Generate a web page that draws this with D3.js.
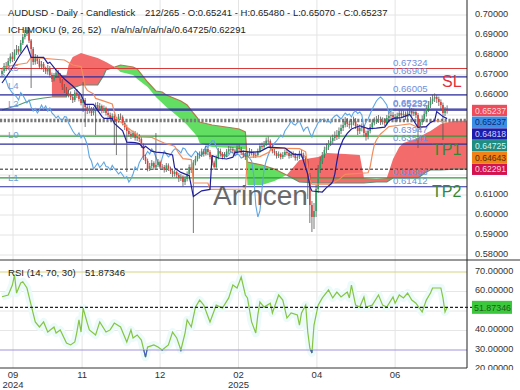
<!DOCTYPE html>
<html>
<head>
<meta charset="utf-8">
<title>AUDUSD Daily Ichimoku</title>
<script src="https://cdn.jsdelivr.net/npm/d3@7/dist/d3.min.js"></script>
<style>
body { margin: 0; background: #fff; }
svg { display: block; font-family: "Liberation Sans", Arial, sans-serif; }
</style>
</head>
<body>
<script>
// daily candles, oldest first (bar 0 .. 214)
var opens = [
0.6705,0.6720,0.6745,0.6738,0.6770,0.6792,0.6780,0.6812,0.6830,0.6818,
0.6860,0.6890,0.6905,0.6925,0.6872,0.6830,0.6765,0.6790,0.6770,0.6742,
0.6755,0.6730,0.6718,0.6735,0.6700,0.6680,0.6695,0.6712,0.6700,0.6672,
0.6640,0.6625,0.6610,0.6602,0.6590,0.6575,0.6612,0.6600,0.6580,0.6560,
0.6575,0.6540,0.6520,0.6532,0.6510,0.6525,0.6550,0.6530,0.6545,0.6520,
0.6535,0.6510,0.6500,0.6485,0.6495,0.6480,0.6470,0.6492,0.6490,0.6460,
0.6440,0.6420,0.6405,0.6395,0.6410,0.6385,0.6398,0.6380,0.6350,0.6290,
0.6270,0.6230,0.6245,0.6260,0.6238,0.6250,0.6265,0.6242,0.6240,0.6225,
0.6248,0.6232,0.6220,0.6205,0.6215,0.6200,0.6185,0.6192,0.6165,0.6180,
0.6205,0.6240,0.6225,0.6262,0.6280,0.6295,0.6300,0.6318,0.6305,0.6330,
0.6315,0.6290,0.6262,0.6240,0.6285,0.6320,0.6305,0.6290,0.6300,0.6318,
0.6330,0.6330,0.6322,0.6310,0.6335,0.6330,0.6312,0.6300,0.6290,0.6305,
0.6320,0.6310,0.6298,0.6300,0.6320,0.6345,0.6340,0.6355,0.6372,0.6370,
0.6340,0.6320,0.6310,0.6295,0.6305,0.6290,0.6300,0.6315,0.6310,0.6295,
0.6305,0.6300,0.6285,0.6290,0.6310,0.6300,0.6285,0.6270,0.6200,0.6050,
0.5990,0.6020,0.6130,0.6230,0.6270,0.6300,0.6325,0.6340,0.6360,0.6370,
0.6385,0.6400,0.6390,0.6420,0.6435,0.6450,0.6470,0.6455,0.6450,0.6462,
0.6470,0.6445,0.6420,0.6435,0.6440,0.6410,0.6390,0.6420,0.6440,0.6462,
0.6470,0.6478,0.6480,0.6465,0.6472,0.6460,0.6485,0.6495,0.6500,0.6490,
0.6480,0.6495,0.6510,0.6500,0.6505,0.6490,0.6512,0.6520,0.6508,0.6515,
0.6500,0.6440,0.6465,0.6480,0.6505,0.6530,0.6550,0.6570,0.6582,0.6590,
0.6580,0.6565,0.6550,0.6510,0.65241];
var highs = [
0.6735,0.6760,0.6765,0.6785,0.6808,0.6815,0.6828,0.6850,0.6845,0.6875,
0.6905,0.6925,0.6940,0.6935,0.6880,0.6840,0.6805,0.6800,0.6782,0.6770,
0.6765,0.6742,0.6750,0.6745,0.6712,0.6710,0.6730,0.6725,0.6710,0.6680,
0.6655,0.6640,0.6625,0.6618,0.6605,0.6625,0.6630,0.6612,0.6595,0.6665,
0.6585,0.6552,0.6548,0.6540,0.6540,0.6562,0.6565,0.6560,0.6552,0.6548,
0.6542,0.6522,0.6512,0.6508,0.6505,0.6490,0.6505,0.6508,0.6498,0.6470,
0.6452,0.6432,0.6418,0.6422,0.6420,0.6412,0.6405,0.6390,0.6358,0.6302,
0.6282,0.6260,0.6275,0.6268,0.6410,0.6280,0.6272,0.6255,0.6250,0.6260,
0.6258,0.6242,0.6230,0.6228,0.6222,0.6210,0.6205,0.6198,0.6195,0.6218,
0.6252,0.6255,0.6275,0.6295,0.6310,0.6318,0.6332,0.6330,0.6345,0.6340,
0.6325,0.6298,0.6272,0.6298,0.6335,0.6332,0.6315,0.6315,0.6330,0.6345,
0.6342,0.6340,0.6330,0.6348,0.6350,0.6340,0.6322,0.6310,0.6318,0.6335,
0.6330,0.6318,0.6312,0.6332,0.6358,0.6362,0.6370,0.6388,0.6392,0.6378,
0.6350,0.6332,0.6320,0.6318,0.6312,0.6315,0.6328,0.6330,0.6320,0.6318,
0.6318,0.6310,0.6305,0.6322,0.6325,0.6312,0.6295,0.6280,0.6210,0.6070,
0.6060,0.6150,0.6250,0.6290,0.6315,0.6342,0.6358,0.6375,0.6392,0.6402,
0.6418,0.6425,0.6438,0.6452,0.6468,0.6490,0.6485,0.6472,0.6480,0.6492,
0.6485,0.6455,0.6452,0.6458,0.6450,0.6422,0.6435,0.6455,0.6478,0.6488,
0.6495,0.6500,0.6492,0.6488,0.6485,0.6500,0.6512,0.6520,0.6515,0.6505,
0.6512,0.6528,0.6525,0.6522,0.6518,0.6530,0.6540,0.6535,0.6532,0.6528,
0.6510,0.6480,0.6498,0.6522,0.6548,0.6570,0.6590,0.6602,0.6608,0.6600,
0.6592,0.6578,0.6562,0.6540,0.65480];
var lows = [
0.6695,0.6710,0.6720,0.6725,0.6758,0.6765,0.6770,0.6800,0.6802,0.6810,
0.6850,0.6878,0.6895,0.6860,0.6635,0.6750,0.6752,0.6755,0.6730,0.6728,
0.6715,0.6705,0.6702,0.6688,0.6665,0.6668,0.6685,0.6688,0.6660,0.6625,
0.6610,0.6598,0.6588,0.6575,0.6560,0.6565,0.6585,0.6568,0.6548,0.6515,
0.6440,0.6505,0.6508,0.6495,0.6498,0.6400,0.6518,0.6520,0.6508,0.6510,
0.6498,0.6488,0.6472,0.6470,0.6350,0.6300,0.6462,0.6475,0.6448,0.6425,
0.6215,0.6392,0.6380,0.6385,0.6372,0.6370,0.6365,0.6335,0.6275,0.6255,
0.6218,0.6220,0.6235,0.6225,0.6228,0.6240,0.6230,0.6228,0.6212,0.6215,
0.6220,0.6205,0.6190,0.6192,0.6185,0.6165,0.6170,0.6142,0.6150,0.6168,
0.6195,0.6210,0.5910,0.6248,0.6268,0.6282,0.6290,0.6292,0.6298,0.6300,
0.6278,0.6248,0.6225,0.6232,0.6278,0.6292,0.6278,0.6282,0.6290,0.6305,
0.6315,0.6310,0.6298,0.6302,0.6318,0.6300,0.6288,0.6275,0.6280,0.6295,
0.6298,0.6285,0.6285,0.6292,0.6312,0.6328,0.6330,0.6345,0.6355,0.6328,
0.6308,0.6298,0.6282,0.6285,0.6278,0.6280,0.6290,0.6298,0.6282,0.6285,
0.6288,0.6272,0.6272,0.6280,0.6288,0.6270,0.6240,0.6080,0.5960,0.5915,
0.5930,0.5990,0.6110,0.6210,0.6255,0.6285,0.6310,0.6325,0.6345,0.6355,
0.6370,0.6375,0.6380,0.6405,0.6420,0.6438,0.6440,0.6432,0.6435,0.6448,
0.6430,0.6400,0.6405,0.6418,0.6392,0.6372,0.6378,0.6408,0.6428,0.6448,
0.6455,0.6460,0.6450,0.6452,0.6445,0.6448,0.6470,0.6480,0.6475,0.6465,
0.6468,0.6480,0.6485,0.6488,0.6475,0.6478,0.6498,0.6492,0.6495,0.6485,
0.6335,0.6425,0.6450,0.6468,0.6492,0.6515,0.6535,0.6555,0.6565,0.6560,
0.6545,0.6530,0.6375,0.6495,0.65070];
var closes = [
0.6720,0.6745,0.6738,0.6770,0.6792,0.6780,0.6812,0.6830,0.6818,0.6860,
0.6890,0.6905,0.6925,0.6872,0.6830,0.6765,0.6790,0.6770,0.6742,0.6755,
0.6730,0.6718,0.6735,0.6700,0.6680,0.6695,0.6712,0.6700,0.6672,0.6640,
0.6625,0.6610,0.6602,0.6590,0.6575,0.6612,0.6600,0.6580,0.6560,0.6575,
0.6540,0.6520,0.6532,0.6510,0.6525,0.6550,0.6530,0.6545,0.6520,0.6535,
0.6510,0.6500,0.6485,0.6495,0.6480,0.6470,0.6492,0.6490,0.6460,0.6440,
0.6420,0.6405,0.6395,0.6410,0.6385,0.6398,0.6380,0.6350,0.6290,0.6270,
0.6230,0.6245,0.6260,0.6238,0.6250,0.6265,0.6242,0.6240,0.6225,0.6248,
0.6232,0.6220,0.6205,0.6215,0.6200,0.6185,0.6192,0.6165,0.6180,0.6205,
0.6240,0.6225,0.6262,0.6280,0.6295,0.6300,0.6318,0.6305,0.6330,0.6315,
0.6290,0.6262,0.6240,0.6285,0.6320,0.6305,0.6290,0.6300,0.6318,0.6330,
0.6330,0.6322,0.6310,0.6335,0.6330,0.6312,0.6300,0.6290,0.6305,0.6320,
0.6310,0.6298,0.6300,0.6320,0.6345,0.6340,0.6355,0.6372,0.6370,0.6340,
0.6320,0.6310,0.6295,0.6305,0.6290,0.6300,0.6315,0.6310,0.6295,0.6305,
0.6300,0.6285,0.6290,0.6310,0.6300,0.6285,0.6270,0.6200,0.6050,0.5990,
0.6020,0.6130,0.6230,0.6270,0.6300,0.6325,0.6340,0.6360,0.6370,0.6385,
0.6400,0.6390,0.6420,0.6435,0.6450,0.6470,0.6455,0.6450,0.6462,0.6470,
0.6445,0.6420,0.6435,0.6440,0.6410,0.6390,0.6420,0.6440,0.6462,0.6470,
0.6478,0.6480,0.6465,0.6472,0.6460,0.6485,0.6495,0.6500,0.6490,0.6480,
0.6495,0.6510,0.6500,0.6505,0.6490,0.6512,0.6520,0.6508,0.6515,0.6500,
0.6440,0.6465,0.6480,0.6505,0.6530,0.6550,0.6570,0.6582,0.6590,0.6580,
0.6565,0.6550,0.6510,0.65241,0.65237];

// ichimoku lines as [bar, value]
var tenkan = [[0,0.6660],[4,0.6720],[8,0.6790],[12,0.6849],[14,0.6788],[20,0.6788],[22,0.6758],[23,0.6764],
  [26,0.6724],[30,0.6680],[34,0.6645],[38,0.6602],[40,0.6553],[44,0.6553],[48,0.6493],[49,0.6483],[53,0.6483],
  [54,0.6458],[58,0.6421],[60,0.6364],[64,0.6362],[66,0.6357],[68,0.6334],[69,0.6344],[72,0.6319],[74,0.6314],
  [78,0.6311],[82,0.6300],[83,0.6235],[86,0.6213],[90,0.6197],[92,0.6093],[96,0.6121],[100,0.6128],[101,0.6297],
  [104,0.6285],[108,0.6280],[111,0.6289],[112,0.6312],[116,0.6319],[120,0.6313],[124,0.6317],[128,0.6339],
  [132,0.6337],[136,0.6335],[137,0.6328],[140,0.6304],[144,0.6301],[147,0.6203],[148,0.6143],[149,0.6120],
  [154,0.6115],[156,0.6137],[158,0.6154],[159,0.6166],[160,0.6204],[161,0.6268],[162,0.6324],[164,0.6377],
  [166,0.6408],[168,0.6430],[172,0.6446],[176,0.6432],[180,0.6434],[184,0.6439],[186,0.6470],[188,0.6483],
  [192,0.6487],[196,0.6503],[200,0.6438],[204,0.6442],[206,0.6463],[208,0.6472],[209,0.6517],[212,0.6492],
  [214,0.64818]];
var kijun = [[0,0.6735],[6,0.6750],[12,0.6760],[14,0.6788],[30,0.6775],[34,0.6750],[38,0.6742],[39,0.6698],
  [40,0.6640],[41,0.6623],[44,0.6605],[45,0.6583],[48,0.6573],[53,0.6555],[54,0.6515],[55,0.6483],[60,0.6440],
  [65,0.6400],[66,0.6390],[72,0.6388],[76,0.6369],[78,0.6360],[83,0.6344],[85,0.6309],[87,0.6282],[91,0.6277],
  [92,0.6160],[99,0.6160],[100,0.6128],[117,0.6130],[118,0.6288],[124,0.6292],[128,0.6312],[130,0.6334],
  [143,0.6332],[146,0.6316],[147,0.6236],[148,0.6176],[149,0.6154],[158,0.6154],[162,0.6177],[165,0.6203],
  [176,0.6211],[177,0.6241],[178,0.6301],[179,0.6351],[180,0.6375],[182,0.6405],[184,0.6423],[186,0.6442],
  [192,0.6450],[196,0.6456],[200,0.6438],[204,0.6442],[206,0.6463],[208,0.6472],[214,0.64643]];

// cloud: bars with span A / span B (A missing before the cloud begins)
var cloudIdx = [0,8,14,20,24,31,32,34,38,41,46,49,50,54,57,63,65,70,74,77,79,86,89,92,94,95,99,101,111,114,
  117,118,125,131,137,143,152,156,165,172,174,180,185,188,191,193,200,204,206,211,217,224];
var spanA = [null,null,null,null,0.6700,0.6700,0.6750,0.6790,0.6810,0.6800,0.6785,0.6770,0.6765,0.6741,0.6715,
  0.6700,0.6680,0.6640,0.6590,0.6560,0.6540,0.6480,0.6450,0.6415,0.6390,0.6360,0.6345,0.6340,0.6335,0.6330,
  0.6330,0.6150,0.6150,0.6170,0.6201,0.6275,0.6290,0.6310,0.6305,0.6300,0.6185,0.6180,0.6185,0.6280,0.6340,
  0.6360,0.6385,0.6410,0.6420,0.6455,0.6470,0.64725];
var spanB = [0.6525,0.6550,0.6575,0.6585,0.6590,0.6590,0.6625,0.6635,0.6650,0.6650,0.6650,0.6700,0.6725,0.6739,0.6750,
  0.6740,0.6730,0.6665,0.6620,0.6615,0.6600,0.6570,0.6550,0.6510,0.6485,0.6465,0.6455,0.6450,0.6435,0.6430,
  0.6415,0.6265,0.6250,0.6230,0.6199,0.6165,0.6160,0.6160,0.6160,0.6160,0.6160,0.6165,0.6165,0.6185,0.6185,
  0.6185,0.6185,0.6215,0.6225,0.6225,0.6229,0.62291];

var rsi = [[0,57.3],[3,58.2],[5,63.3],[6,68.5],[7,59.2],[9,64.4],[10,65],[12,61.8],[14,53],[16,44.4],[18,41.8],
  [20,44.4],[22,39.2],[25,41.8],[26,38.7],[28,40.3],[31,33.6],[33,32.6],[35,34.1],[36,39.2],[37,45.4],[38,39.2],
  [39,51.5],[41,43.8],[42,40.3],[45,37.7],[47,44.4],[50,39.2],[52,40.3],[54,43.8],[57,41.8],[60,34.1],[62,40.3],
  [63,36.2],[65,37.7],[67,35.1],[69,26.4],[70,31.5],[73,32.6],[75,31.5],[77,30],[80,32.6],[82,39.2],[84,36.2],
  [86,30],[88,38.7],[89,45.4],[91,41.8],[93,52],[95,55.6],[97,53],[100,44.4],[103,53],[106,51.5],[109,56.7],
  [111,63.3],[113,61.8],[115,67.4],[117,58.2],[118,56.7],[120,44.4],[122,38.7],[123,48],[124,54.6],[126,52],
  [129,54],[130,49],[133,58.2],[135,55.6],[137,46.4],[139,49],[142,48],[143,42.8],[144,49],[146,53],[147,39.2],
  [148,31],[149,28.5],[150,42.8],[152,53],[154,56.7],[157,60.8],[159,56.7],[161,59.7],[163,57.2],[166,59.7],
  [167,56.7],[168,63.3],[170,53],[172,52],[174,57.2],[175,52],[178,53],[181,58.2],[183,53],[185,52],[188,57.2],
  [189,54],[191,58.2],[193,56.7],[195,59.2],[197,55.6],[199,54],[202,49.5],[204,55.6],[206,59.2],[207,61.8],
  [211,61.8],[212,56.7],[213,49.5],[214,51.87346]];
var rsiNow = 51.87346;

// horizontal levels
var redLevels = [0.67324];
var blueLevels = [0.66909, 0.66005, 0.65292, 0.65237, 0.63541, 0.61412];
var greenLevels = [0.63947, 0.61858];
var ichiNow = [0.64725, 0.62291];
var levelNames = ["L5", "L4", "L2", "L0", "L1"];
var levelNamePrices = [0.6738, 0.6648, 0.6558, 0.6403, 0.6188];
var tradeNames = ["SL", "TP1", "TP2"];
var tradePrices = [0.6640, 0.6300, 0.6090];

// price tags on the axis
var tagValues = [0.65237, 0.65237, 0.64818, 0.64725, 0.64643, 0.62291];

var gridTicks = [0.58,0.59,0.60,0.61,0.62,0.63,0.64,0.65,0.66,0.67,0.68,0.69,0.70];
var priceTicks = [0.58,0.59,0.60,0.61,0.66,0.67,0.68,0.69,0.70,0.71];   // the rest sit under the tags
var rsiTicks = [20,30,40,60,70];
var monthIdx = [5.3, 38.5, 76, 113.7, 151.4, 189];
var monthLabels = ["09", "11", "12", "02", "04", "06"];
var yearLabels = ["2024", "", "", "2025", "", ""];

var title1 = "AUDUSD - Daily - Candlestick";
var title2 = "212/265 - O:0.65241 - H:0.65480 - L:0.65070 - C:0.65237";
var ichiTitle = "ICHIMOKU (9, 26, 52)";
var ichiValues = "n/a/n/a/n/a/n/a/0.64725/0.62291";

// ---------------------------------------------------------------
var plotRight = 467;

var svg = d3.select("body").append("svg")
    .attr("width", 520)
    .attr("height", 390);

x = d3.scaleLinear().domain([0, 224]).range([2, 2 + 224 * 2.08]);
y = d3.scaleLinear().domain([0.58, 0.70]).range([255, 15]);
yr = d3.scaleLinear().domain([30, 70]).range([350, 272]);

var defs = svg.append("defs");
function clip(id, x0, y0, w, h) {
    defs.append("clipPath").attr("id", id).append("rect")
        .attr("x", x0).attr("y", y0).attr("width", w).attr("height", h);
}
clip("clipMain", 0, 0, plotRight, 260);
clip("clipRsi", 0, 260, plotRight, 108);
clip("clipLow", 0, yr(30), plotRight, 368 - yr(30));
clip("clipAxisMain", plotRight, 0, 53, 260);
clip("clipAxisRsi", plotRight, 260, 53, 110);

var main = svg.append("g").attr("clip-path", "url(#clipMain)");

// grid
main.selectAll(".hgrid").data(gridTicks).enter().append("line")
    .attr("x1", 0).attr("x2", plotRight)
    .attr("y1", function (d) { return y(d) }).attr("y2", function (d) { return y(d) })
    .attr("stroke", "#e4e4e4");
main.selectAll(".vgrid").data(monthIdx).enter().append("line")
    .attr("x1", function (d) { return x(d) }).attr("x2", function (d) { return x(d) })
    .attr("y1", 0).attr("y2", 260)
    .attr("stroke", "#e4e4e4");

// cloud
var cloudPts = cloudIdx.map(function (d, k) {
    return {i: d, a: spanA[k], b: spanB[k]};
});
var filled = cloudPts.filter(function (p) { return p.a != null });

var runs = [], run = [filled[0]];
for (var k = 1; k < filled.length; k++) {
    var p = filled[k - 1], q = filled[k];
    var dp = p.a - p.b, dq = q.a - q.b;
    if (dp * dq < 0) {
        var t = dp / (dp - dq);
        var c = {i: p.i + t * (q.i - p.i), a: p.a + t * (q.a - p.a)};
        c.b = c.a;
        run.push(c);
        runs.push(run);
        run = [c];
    }
    run.push(q);
}
runs.push(run);

function runSign(r) {
    return d3.sum(r, function (d) { return d.a - d.b }) > 0 ? 1 : -1;
}

var cloudArea = d3.area()
    .x(function (d) { return x(d.i) })
    .y0(function (d) { return y(d.b) })
    .y1(function (d) { return y(d.a) });

main.selectAll(".cloud").data(runs).enter().append("path")
    .attr("d", cloudArea)
    .attr("fill", function (r) { return runSign(r) > 0 ? "#f36b6b" : "#62df62" })
    .attr("stroke", "none");

var bLine = d3.line()
    .x(function (d) { return x(d.i) })
    .y(function (d) { return y(d.b) });

main.selectAll(".bedge").data(runs).enter().append("path")
    .attr("d", bLine)
    .attr("fill", "none")
    .attr("stroke", function (r) { return runSign(r) > 0 ? "#5f8f78" : "#b07a4c" })
    .attr("stroke-width", 1.2);

main.append("path")
    .attr("d", bLine(cloudPts.filter(function (p, k) { return k <= 4 })))
    .attr("fill", "none")
    .attr("stroke", "#4f9a72")
    .attr("stroke-width", 1.2);

// levels
function levelLines(vals, color, width) {
    main.selectAll(null).data(vals).enter().append("line")
        .attr("x1", 0).attr("x2", plotRight)
        .attr("y1", function (d) { return y(d) }).attr("y2", function (d) { return y(d) })
        .attr("stroke", color)
        .attr("stroke-width", width);
}
levelLines(blueLevels, "#2c2c9c", 1.2);
levelLines(greenLevels, "#2f9a3a", 1.2);
levelLines(redLevels, "#d83a3a", 1.2);

main.append("line")
    .attr("x1", 0).attr("x2", plotRight)
    .attr("y1", y(ichiNow[0])).attr("y2", y(ichiNow[0]))
    .attr("stroke", "#7a7a7a").attr("stroke-width", 3.5)
    .attr("stroke-dasharray", "2.2,1.6");
main.append("line")
    .attr("x1", 0).attr("x2", plotRight)
    .attr("y1", y(ichiNow[1])).attr("y2", y(ichiNow[1]))
    .attr("stroke", "#222").attr("stroke-width", 1)
    .attr("stroke-dasharray", "3,2");

// chikou: closes plotted 26 bars back
var chikou = closes.slice(26).map(function (v, k) { return [k, v] });
var pairLine = d3.line()
    .x(function (d) { return x(d[0]) })
    .y(function (d) { return y(d[1]) });

main.append("path")
    .attr("d", pairLine(chikou))
    .attr("fill", "none")
    .attr("stroke", "#5fa6e2")
    .attr("stroke-width", 1.1);

// candles
var bars = d3.range(closes.length);
main.selectAll(".wick").data(bars).enter().append("line")
    .attr("x1", function (i) { return x(i) }).attr("x2", function (i) { return x(i) })
    .attr("y1", function (i) { return y(highs[i]) }).attr("y2", function (i) { return y(lows[i]) })
    .attr("stroke", "#555")
    .attr("stroke-width", 0.8);
main.selectAll(".body").data(bars).enter().append("rect")
    .attr("x", function (i) { return x(i) - 0.8 })
    .attr("width", 1.6)
    .attr("y", function (i) { return y(Math.max(opens[i], closes[i])) })
    .attr("height", function (i) { return Math.max(0.8, Math.abs(y(opens[i]) - y(closes[i]))) })
    .attr("fill", function (i) { return closes[i] >= opens[i] ? "#2f9e62" : "#e43c36" });

// tenkan / kijun
main.append("path")
    .attr("d", pairLine(kijun))
    .attr("fill", "none")
    .attr("stroke", "#f28c5c")
    .attr("stroke-width", 1.2);
main.append("path")
    .attr("d", pairLine(tenkan))
    .attr("fill", "none")
    .attr("stroke", "#1f1f99")
    .attr("stroke-width", 1.2);

// level value labels
var allLevels = redLevels.concat(blueLevels, greenLevels);
main.selectAll(".lvlText").data(allLevels).enter().append("text")
    .attr("x", 393)
    .attr("y", function (d) { return y(d) - 3 })
    .attr("font-size", "9.6px")
    .attr("fill", "#6f8fdc")
    .text(function (d) { return d3.format(".5f")(d) });

main.selectAll(".lname").data(levelNames).enter().append("text")
    .attr("x", 8)
    .attr("y", function (d, i) { return y(levelNamePrices[i]) + 3.5 })
    .attr("font-size", "9.6px")
    .attr("fill", "#6f9ddc")
    .text(function (d) { return d });

main.selectAll(".trade").data(tradeNames).enter().append("text")
    .attr("x", function (d) { return d == "SL" ? 442 : 432 })
    .attr("y", function (d, i) { return y(tradePrices[i]) })
    .attr("font-size", "16px")
    .attr("fill", function (d) { return d == "SL" ? "#e0303a" : "#2f8a35" })
    .text(function (d) { return d });

// watermark
main.append("text")
    .attr("x", 213).attr("y", 205)
    .attr("font-size", "28px")
    .attr("fill", "#4f4f4f")
    .attr("opacity", 0.85)
    .text("Arincen");

// titles
svg.append("text").attr("x", 8).attr("y", 16).attr("font-size", "9.5px").attr("fill", "#222").text(title1);
svg.append("text").attr("x", 145).attr("y", 16).attr("font-size", "9.5px").attr("fill", "#222").text(title2);
svg.append("text").attr("x", 8).attr("y", 32.7).attr("font-size", "9.5px").attr("fill", "#222").text(ichiTitle);
svg.append("text").attr("x", 111).attr("y", 32.7).attr("font-size", "9.5px").attr("fill", "#222").text(ichiValues);

// price axis
var axisMain = svg.append("g").attr("clip-path", "url(#clipAxisMain)")
    .append("g").attr("transform", "translate(" + plotRight + ",0)")
    .call(d3.axisRight(y).tickValues(priceTicks).tickFormat(d3.format(".5f")).tickSize(0).tickPadding(8));
axisMain.attr("font-family", null).attr("font-size", null);
axisMain.select(".domain").remove();
axisMain.selectAll("text").attr("font-size", "9.2px").attr("fill", "#333").attr("y", -1.8);

var tagColors = ["#ee4b5b", "#3a8ee6", "#1c1caa", "#1f8c82", "#f08216", "#d3134f"];
var tagText = ["#ffd6d6", "#0c2a78", "#d0d0ff", "#d6f2ea", "#5a2a00", "#ffd2de"];
var tags = svg.selectAll(".tag").data(tagValues).enter().append("g");
tags.append("rect")
    .attr("x", 472).attr("width", 35)
    .attr("y", function (d, i) { return 104.8 + i * 11.75 })
    .attr("height", 11.4)
    .attr("fill", function (d, i) { return tagColors[i] });
tags.append("text")
    .attr("x", 475)
    .attr("y", function (d, i) { return 104.8 + i * 11.75 + 8.8 })
    .attr("font-size", "8.6px")
    .attr("fill", function (d, i) { return tagText[i] })
    .text(function (d) { return d3.format(".5f")(d) });

// ---------------- RSI panel ----------------
var rsiG = svg.append("g").attr("clip-path", "url(#clipRsi)");

rsiG.selectAll(".rgrid").data([40, 50, 60]).enter().append("line")
    .attr("x1", 0).attr("x2", plotRight)
    .attr("y1", function (d) { return yr(d) }).attr("y2", function (d) { return yr(d) })
    .attr("stroke", "#e6e6e6");
rsiG.selectAll(".vgrid").data(monthIdx).enter().append("line")
    .attr("x1", function (d) { return x(d) }).attr("x2", function (d) { return x(d) })
    .attr("y1", 260).attr("y2", 368)
    .attr("stroke", "#e4e4e4");

var rsiLine = d3.line()
    .x(function (d) { return x(d[0]) })
    .y(function (d) { return yr(d[1]) });

rsiG.append("path")
    .attr("d", rsiLine(rsi))
    .attr("fill", "none")
    .attr("stroke", "#ecfafa")
    .attr("stroke-width", 8)
    .attr("stroke-linejoin", "round");

rsiG.append("line")
    .attr("x1", 0).attr("x2", plotRight).attr("y1", yr(70)).attr("y2", yr(70))
    .attr("stroke", "#d6d67e").attr("stroke-width", 1.2);
rsiG.append("line")
    .attr("x1", 0).attr("x2", plotRight).attr("y1", yr(30)).attr("y2", yr(30))
    .attr("stroke", "#a293dc").attr("stroke-width", 1.2);

rsiG.append("path")
    .attr("d", rsiLine(rsi))
    .attr("fill", "none")
    .attr("stroke", "#86c442")
    .attr("stroke-width", 1.2);
svg.append("g").attr("clip-path", "url(#clipLow)").append("path")
    .attr("d", rsiLine(rsi))
    .attr("fill", "none")
    .attr("stroke", "#4a5cc0")
    .attr("stroke-width", 1.2);

svg.append("line")
    .attr("x1", 0).attr("x2", 472).attr("y1", yr(rsiNow)).attr("y2", yr(rsiNow))
    .attr("stroke", "#222").attr("stroke-width", 1.2)
    .attr("stroke-dasharray", "3,2");

svg.append("text").attr("x", 8).attr("y", 275.5).attr("font-size", "9.6px").attr("fill", "#222").text("RSI (14, 70, 30)");
svg.append("text").attr("x", 85).attr("y", 275.5).attr("font-size", "9.6px").attr("fill", "#222").text(d3.format(".5f")(rsiNow));

var axisRsi = svg.append("g").attr("clip-path", "url(#clipAxisRsi)")
    .append("g").attr("transform", "translate(" + plotRight + ",0)")
    .call(d3.axisRight(yr).tickValues(rsiTicks).tickFormat(d3.format(".5f")).tickSize(0).tickPadding(8));
axisRsi.attr("font-family", null).attr("font-size", null);
axisRsi.select(".domain").remove();
axisRsi.selectAll("text").attr("font-size", "9.2px").attr("fill", "#333").attr("y", -1.5);

svg.append("rect")
    .attr("x", 472).attr("y", yr(rsiNow) - 6.5).attr("width", 40).attr("height", 13)
    .attr("fill", "#3cc83c");
svg.append("text")
    .attr("x", 474).attr("y", yr(rsiNow) + 3.2)
    .attr("font-size", "8.9px").attr("fill", "#1b5e1b")
    .text(d3.format(".5f")(rsiNow));

// frame lines
svg.append("line").attr("x1", 0).attr("x2", 520).attr("y1", 260).attr("y2", 260).attr("stroke", "#333");
svg.append("line").attr("x1", 0).attr("x2", plotRight).attr("y1", 368).attr("y2", 368).attr("stroke", "#333");
svg.append("line").attr("x1", plotRight).attr("x2", plotRight).attr("y1", 0).attr("y2", 368).attr("stroke", "#222");

// time labels
svg.selectAll(".month").data(monthLabels).enter().append("text")
    .attr("x", function (d, i) { return x(monthIdx[i]) })
    .attr("y", 378)
    .attr("text-anchor", "middle")
    .attr("font-size", "9.5px")
    .attr("fill", "#333")
    .text(function (d) { return d });
svg.selectAll(".year").data(yearLabels).enter().append("text")
    .attr("x", function (d, i) { return x(monthIdx[i]) })
    .attr("y", 388)
    .attr("text-anchor", "middle")
    .attr("font-size", "9.5px")
    .attr("fill", "#333")
    .text(function (d) { return d });
</script>
</body>
</html>
